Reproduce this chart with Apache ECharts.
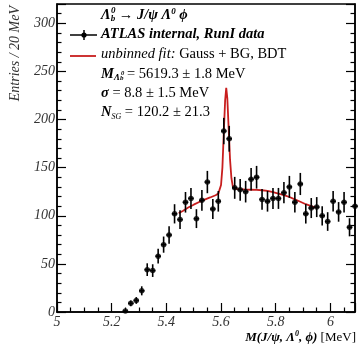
<!DOCTYPE html>
<html>
<head>
<meta charset="utf-8">
<script src="https://cdn.jsdelivr.net/npm/echarts@6/dist/echarts.min.js"></script>
<style>
  html, body { margin: 0; padding: 0; background: #fff; }
  #chart { width: 358px; height: 349px; }
</style>
</head>
<body>
<div id="chart"></div>
<script>
// 20 MeV bins, centres on the axis scale
const massBins = [5.25, 5.27, 5.29, 5.31, 5.33, 5.35, 5.37, 5.39, 5.41, 5.43,
  5.45, 5.47, 5.49, 5.51, 5.53, 5.55, 5.57, 5.59, 5.61, 5.63,
  5.65, 5.67, 5.69, 5.71, 5.73, 5.75, 5.77, 5.79, 5.81, 5.83,
  5.85, 5.87, 5.89, 5.91, 5.93, 5.95, 5.97, 5.99, 6.01, 6.03,
  6.05, 6.07, 6.09];
const counts = [1, 9, 12, 22, 44, 43, 58, 70, 80, 102,
  96, 114, 118, 97, 116, 135, 107, 115, 188, 180,
  129, 127, 125, 138, 140, 117, 115, 118, 118, 124,
  130, 114, 133, 102, 108, 109, 100, 94, 115, 104,
  114, 88, 110];
const errors = [1, 3, 3.5, 4.7, 6.6, 6.6, 7.6, 8.4, 9, 10,
  9.8, 10.7, 10.9, 9.8, 10.8, 11.6, 10.3, 10.7, 13.7, 13.4,
  11.4, 11.3, 11.2, 11.7, 11.8, 10.8, 10.7, 10.9, 10.9, 11.1,
  11.4, 10.7, 11.5, 10.1, 10.4, 10.4, 10, 9.7, 10.7, 10.2,
  10.7, 9.4, 10.5];
const binHalf = 0.01;

// fitted curve (Gauss + BG)
const fitMass = [5.445, 5.46, 5.48, 5.50, 5.52, 5.54, 5.56, 5.58, 5.59, 5.595,
  5.60, 5.605, 5.61, 5.615, 5.619, 5.623, 5.628, 5.633, 5.638, 5.643,
  5.65, 5.67, 5.69, 5.71, 5.73, 5.75, 5.77, 5.79, 5.81, 5.83,
  5.85, 5.87, 5.89, 5.91, 5.93, 5.945];
const fitCurve = [102.5, 105, 108.5, 111.5, 114.3, 116.8, 119, 121.3, 123, 125,
  132, 150, 186, 220, 233, 222, 190, 158, 139, 130.5,
  128, 127.6, 127.2, 127, 126.8, 126.5, 125.8, 124.5, 123, 121.5,
  119.5, 117, 114.5, 112, 110, 108.5];

const xTickLabels = ['5', '5.2', '5.4', '5.6', '5.8', '6'];
const yTickLabels = ['0', '50', '100', '150', '200', '250', '300'];

const SERIF = '"Liberation Serif", "DejaVu Serif", serif';
const RED = '#c81e1e';
const FS = 14.5;

const chart = echarts.init(document.getElementById('chart'));

const points = massBins.map((m, i) => [m, counts[i], errors[i]]);
const fitLine = fitMass.map((m, i) => [m, fitCurve[i]]);

function errorBar(params, api) {
  const x = api.value(0), y = api.value(1), e = api.value(2);
  const lo = api.coord([x, y - e]);
  const hi = api.coord([x, y + e]);
  const l = api.coord([x - binHalf, y]);
  const r = api.coord([x + binHalf, y]);
  const style = { stroke: '#000', lineWidth: 1.6 };
  return {
    type: 'group',
    children: [
      { type: 'line', shape: { x1: lo[0], y1: lo[1], x2: hi[0], y2: hi[1] }, style },
      { type: 'line', shape: { x1: l[0], y1: l[1], x2: r[0], y2: r[1] }, style }
    ]
  };
}

const tickStyle = { color: '#000', width: 1.2 };
const labelFont = { fontFamily: SERIF, fontStyle: 'italic', fontSize: 14, color: '#333' };

// text styles for the rich legend
function tok(size, italic, bold, va) {
  return { fontFamily: SERIF, fontStyle: italic ? 'italic' : 'normal', fontWeight: bold ? 'bold' : 'normal',
    fontSize: size, color: '#000', lineHeight: 16, verticalAlign: va };
}
const rich = {
  bi: tok(FS, true, true, 'middle'),
  i: tok(FS, true, false, 'middle'),
  r: tok(FS, false, false, 'middle'),
  sup: tok(9, true, true, 'top'),
  sub: tok(9, true, true, 'bottom'),
  ss: tok(7, true, true, 'bottom'),
  subs: tok(8, true, false, 'bottom'),
  xbi: tok(13, true, true, 'middle'),
  xr: tok(13, false, false, 'middle'),
  xsup: tok(8, true, true, 'top')
};

function legendText(x, y, text) {
  return { type: 'text', left: x, top: y - 8, style: { text, rich } };
}
function smallText(x, y, text, size) {
  return { type: 'text', left: x, top: y,
    style: { text, fontFamily: SERIF, fontStyle: 'italic', fontWeight: 'bold', fontSize: size, fill: '#000' } };
}

chart.setOption({
  backgroundColor: '#fff',
  animation: false,
  grid: { left: 57, right: 2, top: 4, bottom: 37, show: true, borderColor: '#000', borderWidth: 1.5 },
  xAxis: [{
    type: 'value', min: 5, max: 6.09, interval: 0.2,
    axisLine: { show: true, onZero: false, lineStyle: { color: '#000', width: 1.5 } },
    axisTick: { inside: true, length: 9, lineStyle: tickStyle },
    minorTick: { show: true, splitNumber: 4, length: 4.5, lineStyle: tickStyle },
    splitLine: { show: false },
    axisLabel: Object.assign({ margin: 3, formatter: v => {
      const s = String(Math.round(v * 10) / 10);
      return xTickLabels.includes(s) ? s : '';
    } }, labelFont)
  }],
  yAxis: [{
    type: 'value', min: 0, max: 320, interval: 50, position: 'left',
    axisLine: { show: true, onZero: false, lineStyle: { color: '#000', width: 1.5 } },
    axisTick: { inside: true, length: 9, lineStyle: tickStyle },
    minorTick: { show: true, splitNumber: 5, length: 4.5, lineStyle: tickStyle },
    splitLine: { show: false },
    axisLabel: Object.assign({ margin: 2, formatter: v => yTickLabels.includes(String(v)) ? String(v) : '' }, labelFont)
  }, {
    type: 'value', min: 0, max: 320, interval: 50, position: 'right',
    axisLine: { show: true, onZero: false, lineStyle: { color: '#000', width: 1.5 } },
    axisTick: { inside: true, length: 9, lineStyle: tickStyle },
    minorTick: { show: true, splitNumber: 5, length: 4.5, lineStyle: tickStyle },
    splitLine: { show: false },
    axisLabel: { show: false }
  }],
  series: [{
    type: 'line',
    data: fitLine,
    showSymbol: false,
    lineStyle: { color: RED, width: 1.8 },
    z: 1
  }, {
    type: 'custom',
    data: points,
    renderItem: errorBar,
    z: 2
  }, {
    type: 'scatter',
    data: points,
    symbol: 'circle',
    symbolSize: 5.5,
    itemStyle: { color: '#000' },
    z: 3
  }],
  graphic: [
    legendText(101, 15, '{bi|Λ}{sub|b}{bi| → J/ψ Λ}{sup|0}{bi| ϕ}'),
    smallText(111, 6, '0', 9),
    { type: 'line', shape: { x1: 70, y1: 35, x2: 97, y2: 35 }, style: { stroke: '#000', lineWidth: 1.5 } },
    { type: 'line', shape: { x1: 84, y1: 30, x2: 84, y2: 40 }, style: { stroke: '#000', lineWidth: 1.5 } },
    { type: 'circle', shape: { cx: 84, cy: 35, r: 2.6 }, style: { fill: '#000' } },
    legendText(101, 35, '{bi|ATLAS internal, RunI data}'),
    { type: 'line', shape: { x1: 70, y1: 56, x2: 96, y2: 56 }, style: { stroke: RED, lineWidth: 1.8 } },
    legendText(101, 55, '{i|unbinned fit:}{r| Gauss + BG, BDT}'),
    legendText(101, 74.5, '{bi|M}{sub|Λ}{ss|b}{r| = 5619.3 ± 1.8 MeV}'),
    smallText(121, 69.5, '0', 6.5),
    legendText(101, 94, '{bi|σ}{r| = 8.8 ± 1.5 MeV}'),
    legendText(101, 113, '{bi|N}{subs|SG}{r| = 120.2 ± 21.3}'),
    {
      type: 'text', x: 15, y: 6, rotation: Math.PI / 2,
      style: { text: 'Entries / 20 MeV', fontFamily: SERIF, fontStyle: 'italic', fontSize: 14, fill: '#333', align: 'right', verticalAlign: 'middle' }
    },
    {
      type: 'text', right: 2, top: 330,
      style: { text: '{xbi|M(J/ψ, Λ}{xsup|0}{xbi|, ϕ)}{xr| [MeV]}', rich }
    }
  ]
});
</script>
</body>
</html>
